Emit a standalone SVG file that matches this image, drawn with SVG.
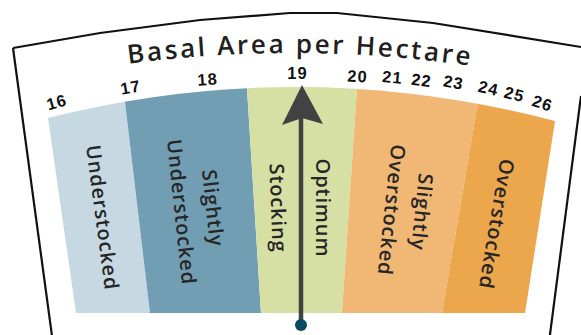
<svg xmlns="http://www.w3.org/2000/svg" width="581" height="335" viewBox="0 0 581 335">
<style>
.frame{fill:none;stroke:#111;stroke-width:2.2;stroke-linejoin:miter}
.title{font-family:"Open Sans","Liberation Sans",sans-serif;font-size:26px;font-weight:600;fill:#231f20;letter-spacing:2.6px}
.num{font-family:"Liberation Sans","DejaVu Sans",sans-serif;font-size:16.5px;font-weight:bold;fill:#111;text-anchor:middle;letter-spacing:1px}
.lbl{font-family:"Open Sans","Liberation Sans",sans-serif;font-size:20px;font-weight:600;fill:#262626;text-anchor:middle;letter-spacing:0.9px}
</style>
<defs>
<clipPath id="fan"><path d="M48,118 Q301,54.5 555,121 L525,313 L76,313 Z"/></clipPath>
<path id="titleArc" d="M40,78.7 A1250,1250 0 0 1 560,82.1"/>
</defs>
<rect width="581" height="335" fill="#fff"/>
<g id="frame">
<polyline class="frame" points="13,48 100,33 200,20 290,13 337,13 433,23 581,47"/>
<line class="frame" x1="13" y1="48" x2="52" y2="336"/>
<line class="frame" x1="581" y1="96" x2="549.8" y2="336"/>
</g>
<g id="bands" clip-path="url(#fan)">
<polygon id="band-understocked" points="0,60 120,60 150.8,320 0,320" fill="#c6d9e3"/>
<polygon id="band-slightly-understocked" points="120,60 245.2,60 261.4,320 150.8,320" fill="#719eb3"/>
<polygon id="band-optimum" points="245.2,60 358.9,60 341.5,320 261.4,320" fill="#d6e0a4"/>
<polygon id="band-slightly-overstocked" points="358.9,60 485.2,60 440.8,320 341.5,320" fill="#f1b774"/>
<polygon id="band-overstocked" points="485.2,60 581,60 581,320 440.8,320" fill="#eca64b"/>
</g>
<g id="title">
<text class="title"><textPath href="#titleArc" startOffset="50%" text-anchor="middle">Basal Area per Hectare</textPath></text>
</g>
<g id="scale">
<text class="num" transform="translate(56.5,102) rotate(-16)" y="6">16</text>
<text class="num" transform="translate(130.5,87) rotate(-10)" y="6">17</text>
<text class="num" transform="translate(207.5,79) rotate(-4)" y="6">18</text>
<text class="num" transform="translate(297.5,73) rotate(0)" y="6">19</text>
<text class="num" transform="translate(357.5,76) rotate(3)" y="6">20</text>
<text class="num" transform="translate(392.5,77) rotate(5)" y="6">21</text>
<text class="num" transform="translate(421.5,80) rotate(7)" y="6">22</text>
<text class="num" transform="translate(453.5,82) rotate(10)" y="6">23</text>
<text class="num" transform="translate(488.5,88) rotate(13)" y="6">24</text>
<text class="num" transform="translate(514.5,94) rotate(15)" y="6">25</text>
<text class="num" transform="translate(542.5,103) rotate(18)" y="6">26</text>
</g>
<g id="labels">
<text class="lbl" transform="translate(102.5,217.5) rotate(82.5)" y="7">Understocked</text>
<text class="lbl" transform="translate(213,208) rotate(84)" y="7">Slightly</text>
<text class="lbl" transform="translate(181.5,212) rotate(84)" y="7">Understocked</text>
<text class="lbl" transform="translate(323,208) rotate(90)" y="7">Optimum</text>
<text class="lbl" transform="translate(278,208) rotate(88)" y="7">Stocking</text>
<text class="lbl" transform="translate(422,212) rotate(96)" y="7">Slightly</text>
<text class="lbl" transform="translate(391.5,210) rotate(96)" y="7">Overstocked</text>
<text class="lbl" transform="translate(496.5,224) rotate(99.5)" y="7">Overstocked</text>
</g>
<g id="pointer">
<line x1="301" y1="325" x2="301" y2="112" stroke="#424242" stroke-width="4.5"/>
<polygon points="302,85 323,124 302,118 282,125" fill="#424242"/>
<circle cx="301" cy="325" r="6" fill="#0b4b61"/>
</g>
</svg>
